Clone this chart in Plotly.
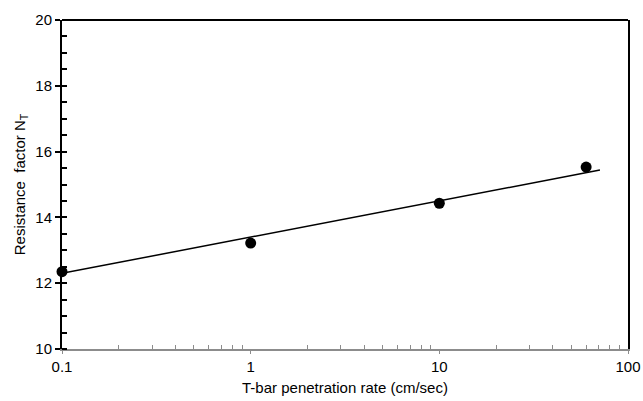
import plotly.graph_objects as go

# Data
rate = [0.1, 1, 10, 60]
nt = [12.35, 13.22, 14.43, 15.53]
fit_x = [0.1, 71]
fit_y = [12.3, 15.44]

x_ticks = [0.1, 1, 10, 100]
x_tick_labels = ["0.1", "1", "10", "100"]
x_minor = [m * d for d in [0.1, 1, 10] for m in range(2, 10)]
y_ticks = [10, 12, 14, 16, 18, 20]

fig = go.Figure()
fig.add_trace(go.Scatter(x=fit_x, y=fit_y, mode="lines",
                         line=dict(color="black", width=1.5), showlegend=False))
fig.add_trace(go.Scatter(x=rate, y=nt, mode="markers",
                         marker=dict(color="black", size=11), showlegend=False,
                         cliponaxis=False))

font = dict(family="Liberation Sans, Arial, sans-serif", size=15, color="black")

fig.update_layout(
    width=643, height=401,
    margin=dict(l=62, r=15, t=20, b=52),
    paper_bgcolor="white", plot_bgcolor="white",
    font=font,
    xaxis=dict(
        type="log", range=[-1, 2], automargin=False, ticklabeloverflow="allow",
        tickmode="array", tickvals=x_ticks, ticktext=x_tick_labels,
        showline=True, linecolor="#8c8c8c", linewidth=2,
        ticks="outside", ticklen=3, tickcolor="#8c8c8c", tickwidth=1,
        minor=dict(ticks="inside", ticklen=4, tickcolor="#8c8c8c", tickwidth=1,
                   tickmode="array", tickvals=x_minor, showgrid=False),
        showgrid=False, zeroline=False,
        title=dict(text="T-bar penetration rate (cm/sec)", font=dict(size=15), standoff=8),
    ),
    yaxis=dict(
        range=[10, 20], automargin=False,
        tickmode="array", tickvals=y_ticks,
        showline=True, linecolor="black", linewidth=2, mirror=True,
        ticks="outside", ticklen=5, tickcolor="black", tickwidth=1.5,
        minor=dict(ticks="inside", ticklen=5, tickcolor="black", tickwidth=1.5,
                   dtick=0.5, showgrid=False),
        showgrid=False, zeroline=False,
        title=dict(text="Resistance  factor N<sub>T</sub>", font=dict(size=15), standoff=6),
    ),
    shapes=[dict(type="line", xref="paper", yref="paper", x0=0, x1=1, y0=1, y1=1,
                 line=dict(color="black", width=2), layer="above")],
)

fig.write_html("out.html",
               config={"displayModeBar": False},
               post_script="document.body.style.margin='0';"
                           "document.documentElement.style.overflow='hidden';"
                           "document.body.style.overflow='hidden';")
